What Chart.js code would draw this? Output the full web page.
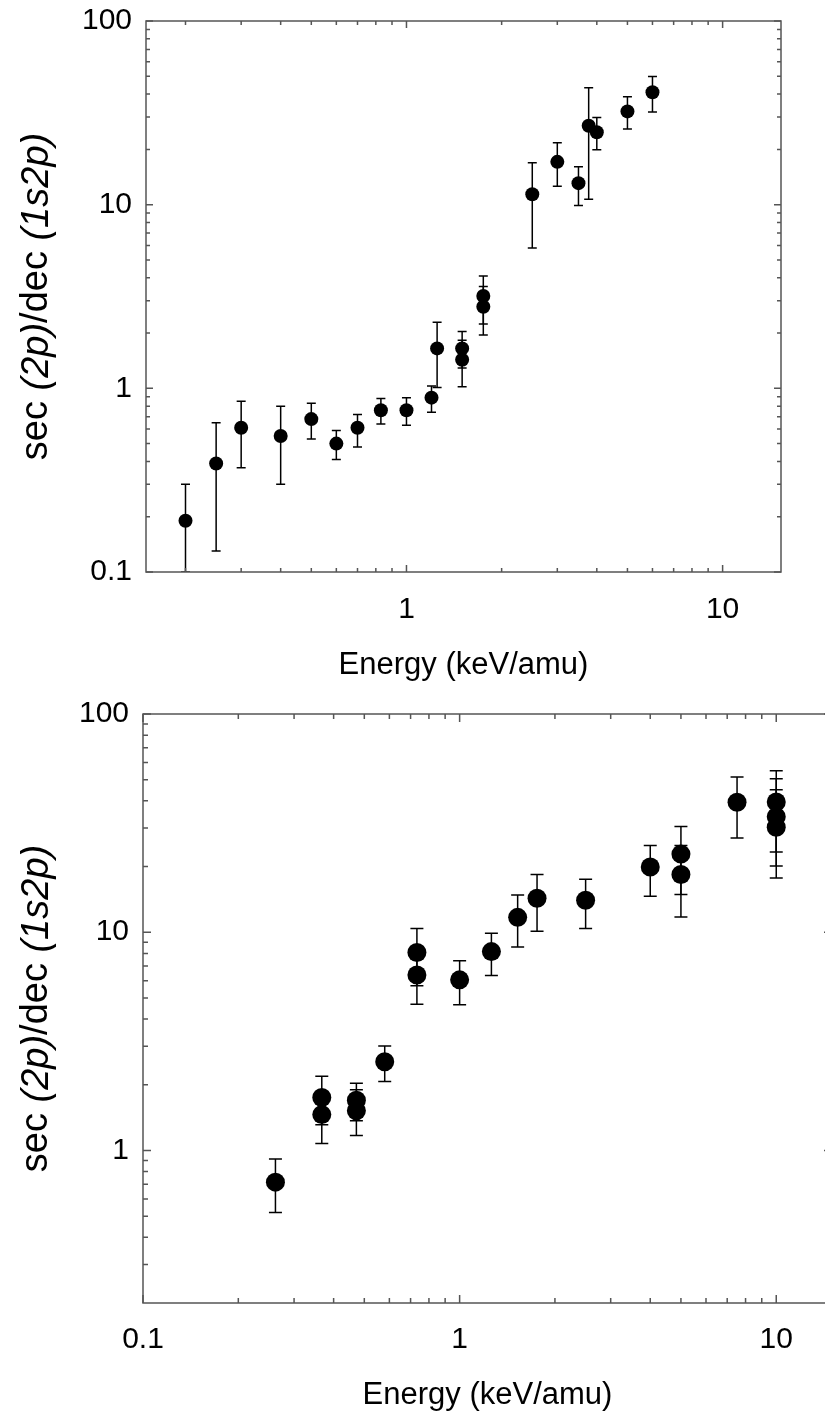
<!DOCTYPE html>
<html>
<head>
<meta charset="utf-8">
<script src="https://cdn.jsdelivr.net/npm/chart.js@4/dist/chart.umd.min.js"></script>
<style>
  html, body { margin: 0; padding: 0; background: #fff; overflow: hidden; width: 825px; height: 1423px; }
  #chartTop { position: absolute; left: 0; top: 0; }
  #chartBottom { position: absolute; left: 0; top: 700px; }
</style>
</head>
<body>
<canvas id="chartTop" width="825" height="700"></canvas>
<canvas id="chartBottom" width="845" height="723"></canvas>
<script>
// upper panel
const topEnergy = [0.20, 0.25, 0.30, 0.40, 0.50, 0.60, 0.70, 0.83, 1.0, 1.2, 1.25, 1.5, 1.5, 1.75, 1.75, 2.5, 3.0, 3.5, 3.77, 4.0, 5.0, 6.0];
const topRatio  = [0.19, 0.39, 0.61, 0.55, 0.68, 0.50, 0.61, 0.76, 0.76, 0.89, 1.65, 1.65, 1.43, 3.18, 2.78, 11.4, 17.1, 13.1, 26.9, 24.8, 32.2, 40.9];
const topLow    = [0.10, 0.13, 0.37, 0.30, 0.53, 0.41, 0.48, 0.64, 0.63, 0.74, 1.01, 1.29, 1.02, 2.24, 1.95, 5.8, 12.6, 9.9, 10.7, 19.9, 25.8, 32.0];
const topHigh   = [0.30, 0.65, 0.85, 0.80, 0.83, 0.59, 0.72, 0.88, 0.89, 1.03, 2.29, 2.04, 1.83, 4.09, 3.58, 16.9, 21.7, 16.1, 43.3, 29.8, 38.7, 49.8];
const topXTicks = [1, 10];
const topYTicks = [0.1, 1, 10, 100];

// lower panel
const botEnergy = [0.262, 0.367, 0.367, 0.472, 0.472, 0.58, 0.733, 0.733, 1.0, 1.26, 1.525, 1.756, 2.5, 4.0, 5.0, 5.0, 7.52, 10, 10, 10];
const botRatio  = [0.716, 1.75, 1.46, 1.70, 1.52, 2.55, 8.07, 6.37, 6.05, 8.15, 11.7, 14.3, 14.0, 19.9, 22.8, 18.4, 39.4, 39.5, 33.8, 30.3];
const botLow    = [0.52, 1.31, 1.076, 1.37, 1.17, 2.07, 5.69, 4.68, 4.65, 6.33, 8.56, 10.1, 10.4, 14.6, 14.9, 11.75, 27.0, 23.3, 20.1, 17.7];
const botHigh   = [0.915, 2.19, 1.85, 2.03, 1.90, 3.01, 10.4, 8.5, 7.41, 9.89, 14.8, 18.4, 17.5, 25.0, 30.5, 25.0, 51.4, 55.0, 50.5, 45.0];
const botXTicks = [0.1, 1, 10];
const botYTicks = [1, 10, 100];

const xTitle = 'Energy (keV/amu)';
const yTitleParts = [['sec ', false], ['(2p)', true], ['/dec ', false], ['(1s2p)', true]];

const FONT = '"Liberation Sans", Arial, Helvetica, sans-serif';
const TICK_SIZE = 30;
const TITLE_SIZE = 31;
const YTITLE_SIZE = 38;

function minorTicks(lo, hi) {
    const out = [];
    for (let e = -2; e <= 2; e++) {
        for (let m = 2; m <= 9; m++) {
            const v = m * Math.pow(10, e);
            if (v > lo && v < hi) out.push(v);
        }
    }
    return out;
}

const framePlugin = {
    id: 'frame',
    beforeDatasetsDraw(chart, args, o) {
        const ctx = chart.ctx, a = chart.chartArea;
        const xs = chart.scales.x, ys = chart.scales.y;
        ctx.save();
        ctx.beginPath();
        ctx.rect(a.left, a.top, a.right - a.left, a.bottom - a.top);
        ctx.clip();
        ctx.strokeStyle = '#000';
        ctx.lineWidth = 1.5;
        o.x.forEach(function(xv, i) {
            const px = xs.getPixelForValue(xv);
            const lo = ys.getPixelForValue(o.lo[i]);
            const hi = ys.getPixelForValue(o.hi[i]);
            ctx.beginPath();
            ctx.moveTo(px, lo); ctx.lineTo(px, hi);
            ctx.moveTo(px - o.cap, lo); ctx.lineTo(px + o.cap, lo);
            ctx.moveTo(px - o.cap, hi); ctx.lineTo(px + o.cap, hi);
            ctx.stroke();
        });
        ctx.restore();
    },
    afterDraw(chart, args, o) {
        const ctx = chart.ctx, a = chart.chartArea;
        const xs = chart.scales.x, ys = chart.scales.y;
        ctx.save();
        ctx.strokeStyle = '#555';
        ctx.lineWidth = 1.5;
        ctx.strokeRect(a.left, a.top, a.right - a.left, a.bottom - a.top);

        // inward ticks on all four sides
        ctx.beginPath();
        function xTick(v, len) {
            const p = xs.getPixelForValue(v);
            ctx.moveTo(p, a.bottom); ctx.lineTo(p, a.bottom - len);
            ctx.moveTo(p, a.top); ctx.lineTo(p, a.top + len);
        }
        function yTick(v, len) {
            const p = ys.getPixelForValue(v);
            ctx.moveTo(a.left, p); ctx.lineTo(a.left + len, p);
            ctx.moveTo(a.right, p); ctx.lineTo(a.right - len, p);
        }
        o.xMajor.forEach(v => xTick(v, o.major));
        minorTicks(xs.min, xs.max).forEach(v => { if (o.xMajor.indexOf(v) < 0) xTick(v, o.minor); });
        o.yMajor.forEach(v => yTick(v, o.major));
        minorTicks(ys.min, ys.max).forEach(v => { if (o.yMajor.indexOf(v) < 0) yTick(v, o.minor); });
        ctx.stroke();

        // y title with italic parts
        let total = 0;
        yTitleParts.forEach(function(p) {
            ctx.font = (p[1] ? 'italic ' : '') + YTITLE_SIZE + 'px ' + FONT;
            total += ctx.measureText(p[0]).width;
        });
        ctx.translate(o.titleX, (a.top + a.bottom) / 2);
        ctx.rotate(-Math.PI / 2);
        ctx.fillStyle = '#000';
        ctx.textBaseline = 'middle';
        ctx.textAlign = 'left';
        let x = -total / 2;
        yTitleParts.forEach(function(p) {
            ctx.font = (p[1] ? 'italic ' : '') + YTITLE_SIZE + 'px ' + FONT;
            ctx.fillText(p[0], x, 0);
            x += ctx.measureText(p[0]).width;
        });
        ctx.restore();
    }
};

function makeChart(id, d) {
    const points = d.x.map((v, i) => ({ x: v, y: d.y[i] }));
    return new Chart(document.getElementById(id), {
        type: 'scatter',
        data: {
            datasets: [{
                data: points,
                backgroundColor: '#000',
                borderColor: '#000',
                borderWidth: 0,
                pointRadius: d.r,
                pointHoverRadius: d.r
            }]
        },
        options: {
            responsive: false,
            animation: false,
            events: [],
            layout: { padding: d.pad },
            plugins: {
                legend: { display: false },
                tooltip: { enabled: false },
                frame: {
                    x: d.x, lo: d.lo, hi: d.hi, cap: d.cap,
                    xMajor: d.xTicks, yMajor: d.yTicks,
                    major: d.major, minor: d.minor, titleX: 37
                }
            },
            scales: {
                x: {
                    type: 'logarithmic',
                    min: d.xMin, max: d.xMax,
                    grid: { display: false, drawTicks: false },
                    border: { display: false },
                    afterBuildTicks: s => { s.ticks = d.xTicks.map(v => ({ value: v })); },
                    afterFit: s => { s.height = d.xAxisH; s.paddingLeft = 0; s.paddingRight = 0; },
                    ticks: {
                        color: '#000', font: { family: FONT, size: TICK_SIZE },
                        padding: d.xTickPad, maxRotation: 0, autoSkip: false,
                        callback: v => String(v)
                    },
                    title: {
                        display: true, text: xTitle, color: '#000',
                        font: { family: FONT, size: TITLE_SIZE },
                        padding: { top: 0, bottom: d.titlePad }
                    }
                },
                y: {
                    type: 'logarithmic',
                    min: d.yMin, max: d.yMax,
                    grid: { display: false, drawTicks: false },
                    border: { display: false },
                    afterBuildTicks: s => { s.ticks = d.yTicks.map(v => ({ value: v })); },
                    afterFit: s => { s.width = d.yAxisW; s.paddingTop = 0; s.paddingBottom = 0; },
                    ticks: {
                        color: '#000', font: { family: FONT, size: TICK_SIZE },
                        padding: 14, autoSkip: false,
                        callback: v => String(v)
                    }
                }
            }
        },
        plugins: [framePlugin]
    });
}

makeChart('chartTop', {
    x: topEnergy, y: topRatio, lo: topLow, hi: topHigh,
    xTicks: topXTicks, yTicks: topYTicks,
    xMin: 0.15, xMax: 15.3, yMin: 0.1, yMax: 100,
    r: 7, cap: 4.5, major: 7, minor: 4,
    pad: { top: 21, right: 44, left: 0, bottom: 0 },
    xAxisH: 128, yAxisW: 146, titlePad: 16, xTickPad: 20
});

makeChart('chartBottom', {
    x: botEnergy, y: botRatio, lo: botLow, hi: botHigh,
    xTicks: botXTicks, yTicks: botYTicks,
    xMin: 0.1, xMax: 15, yMin: 0.2, yMax: 100,
    r: 9.5, cap: 6.5, major: 8, minor: 5,
    pad: { top: 14, right: 13, left: 0, bottom: 0 },
    xAxisH: 120, yAxisW: 143, titlePad: 9, xTickPad: 19
});
</script>
</body>
</html>
